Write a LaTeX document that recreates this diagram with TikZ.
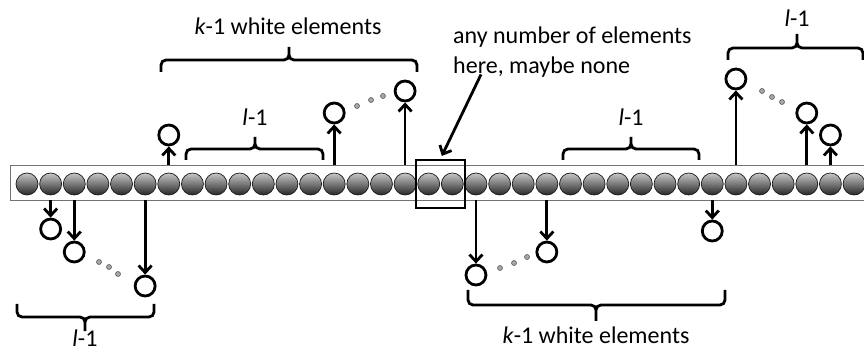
\documentclass[tikz,border=0pt]{standalone}
\usepackage{fontspec}
\setmainfont{Carlito}
\usepackage{tikz}
\usetikzlibrary{positioning,calc,fit,arrows.meta}

\begin{document}
\begin{tikzpicture}[x=1pt, y=-1pt,
    bead/.style={circle, minimum size=22pt, inner sep=0pt, draw=black!90, line width=0.7pt, top color=black!22, bottom color=black!85},
    hole/.style={circle, minimum size=20pt, inner sep=0pt, draw, line width=2.8pt, fill=white},
    pointer/.style={line width=2.8pt, -{Straight Barb[length=7pt,width=13pt]}},
    bracket/.style={line width=2.8pt, rounded corners=5pt},
    lbl/.style={font=\fontsize{24}{30}\selectfont, inner sep=0pt},
    smalldot/.style={fill=gray!70, draw=black!70, line width=0.5pt}]
  \useasboundingbox (0,0) rectangle (864,352);
  \clip (0,0) rectangle (864,352);

  % strip of elements
  \node[draw=black!55, fill=white, line width=0.9pt, minimum width=900pt, minimum height=35pt, inner sep=0pt] (bar) at (460,182.5) {};
  \foreach \i in {0,...,35}
    \node[bead] (b\i) at ({27+23.63*\i},184) {};
  \node[draw, line width=2pt, fit=(b17)(b18), inner xsep=1pt, inner ysep=13pt] (gap) {};

  % white elements below the strip
  \foreach \i/\yy/\nm in {1/229/d1, 2/252/d2, 5/286/d3, 19/275/d4, 22/252/d5, 29/231/d6} {
    \node[hole] (\nm) at ({27+23.63*\i},\yy) {};
    \draw[pointer] (b\i |- bar.south) -- (\nm);
  }
  % white elements above the strip
  \foreach \i/\yy/\nm in {6/135/u1, 13/113/u2, 16/91/u3, 30/79/u4, 33/113/u5, 34/135/u6} {
    \node[hole] (\nm) at ({27+23.63*\i},\yy) {};
    \draw[pointer] (b\i |- bar.north) -- (\nm);
  }

  % dots
  \foreach \p in {(99,262),(109,267),(118,274),(500,268),(514,263),(527,257),(357,106),(371,100),(383,96),(762,91),(772,97),(782,102)}
    \draw[smalldot] \p circle (2.5pt);

  % braces above
  \draw[bracket] (161,72) -- (161,60) -- (289,60) -- (289,47) (417,72) -- (417,60) -- (289,60) -- (289,47);
  \node[lbl, anchor=base] (kup) at (288,35) {\textit{k}-1 white elements};
  \draw[bracket] (186,160) -- (186,149) -- (255,149) -- (255,137) (323,160) -- (323,149) -- (255,149) -- (255,137);
  \node[lbl, anchor=base] (lup1) at (255,126) {\textit{l}-1};
  \draw[bracket] (563,160) -- (563,149) -- (631,149) -- (631,137) (699,160) -- (699,149) -- (631,149) -- (631,137);
  \node[lbl, anchor=base] (lup2) at (631,126) {\textit{l}-1};
  \draw[bracket] (728,60) -- (728,48) -- (797,48) -- (797,34) (863,60) -- (863,48) -- (797,48) -- (797,34);
  \node[lbl, anchor=base] (lup3) at (797,27) {\textit{l}-1};

  % braces below
  \draw[bracket] (17,304) -- (17,317) -- (85,317) -- (85,331) (154,304) -- (154,317) -- (85,317) -- (85,331);
  \node[lbl, anchor=base] (ldown) at (85,346) {\textit{l}-1};
  \draw[bracket] (468,290) -- (468,305) -- (596,305) -- (596,321) (725,290) -- (725,305) -- (596,305) -- (596,321);
  \node[lbl, anchor=base] (kdown) at (596,343) {\textit{k}-1 white elements};

  % note on the empty gap
  \node[lbl, anchor=west, align=left] (note) at (453,52) {any number of elements\\here, maybe none};
  \draw[pointer, shorten >=3pt] ([xshift=28pt,yshift=3pt]note.south west) -- (gap.north);
\end{tikzpicture}
\end{document}
